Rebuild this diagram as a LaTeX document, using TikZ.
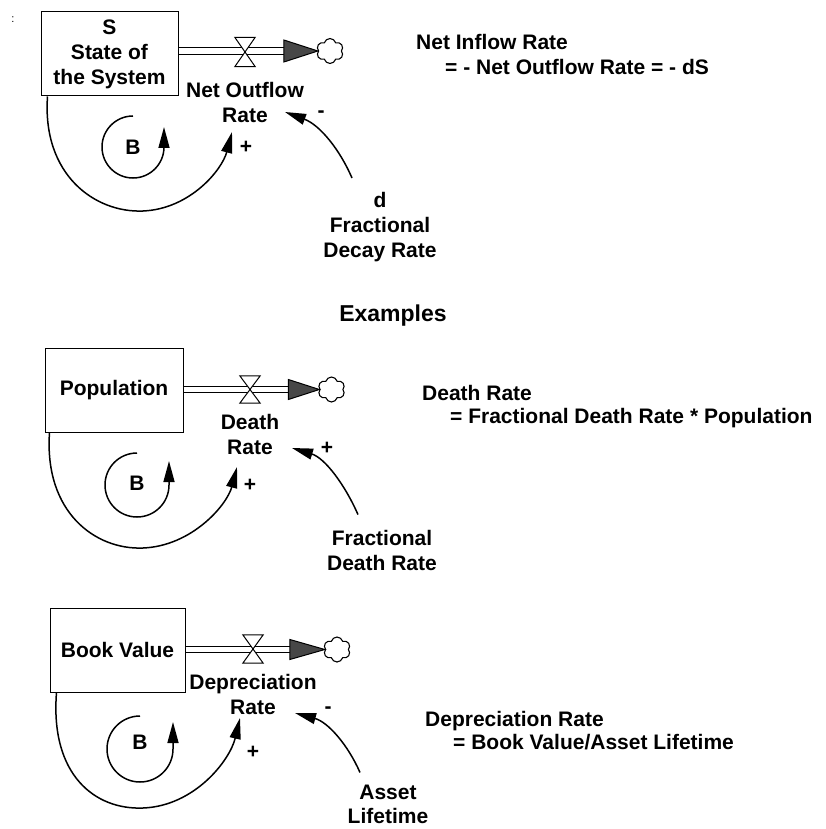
\documentclass[tikz,border=0pt]{standalone}
\usepackage{fontspec}
\setmainfont{Liberation Sans}
\usetikzlibrary{arrows.meta,shapes.symbols,calc}
\begin{document}
\begin{tikzpicture}[x=1pt,y=-1pt,
  txt/.style={font=\fontsize{21}{25}\selectfont\bfseries},
  lbl/.style={txt, inner sep=0pt, align=center},
  eq/.style={txt, inner sep=0pt, anchor=base west},
  stock/.style={txt, draw, line width=1pt, inner sep=0pt, align=center, minimum height=84pt},
  pipe/.style={draw, double, double distance=5.5pt, line width=1.2pt},
  valvebox/.style={inner sep=0pt, minimum width=20pt, minimum height=28pt},
  valve/.style={draw, fill=white, line width=1pt, line join=miter},
  head/.style={draw, fill=black!72, line width=1pt},
  sink/.style={cloud, cloud puffs=6, cloud puff arc=150, draw, line width=1.1pt, minimum width=27pt, minimum height=25pt, inner sep=0pt},
  link/.style={line width=1.5pt, -{Triangle[length=21pt,width=11pt]}},
  polar/.style={txt, inner sep=0pt}
]
\useasboundingbox[fill=white] (0,0) rectangle (826,829);

\node[font=\fontsize{11}{11}\selectfont, inner sep=0pt] (colon) at (13,20) {:};

% ---------- Section 1 ----------
\node[stock, minimum width=137pt] (s1) at (109.5,54) {S\\State of\\the System};
\node[sink] (c1) at (330,51) {};
\node[valvebox, minimum height=29pt] (v1) at (245,52) {};
\coordinate (h1) at ($(c1.west)+(-34,0)$);
\draw[pipe] (s1.east |- h1) -- (h1);
\draw[valve] (v1.north west) -- (v1.north east) -- (v1.south west) -- (v1.south east) -- cycle;
\draw[head] (c1.west) -- ($(h1)+(0,-11)$) -- ($(h1)+(0,11)$) -- cycle;
\node[lbl] (r1) at (245,102) {Net Outflow\\Rate};
\node[lbl] (b1) at (133,147) {B};
\draw[link] (133,116) arc[start angle=270,end angle=0,radius=31] -- ++(0,-20);
\coordinate (t1) at (232,132);
\draw[link] ($(s1.south west)+(7,0)$) .. controls (42,175) and (95,213) .. (143,211)
  .. controls (190,209) and (222,170) .. (t1);
\node[polar] (p1) at (246,147) {+};
\node[lbl] (d1) at (380,227) {d\\Fractional\\Decay Rate};
\coordinate (u1) at (285,112);
\draw[link] ($(d1.north)+(-28,-14)$) .. controls (340,150) and (320,125) .. (u1);
\node[polar] (m1) at (321,114) {-};

\node[eq] (e1a) at (416,50) {Net Inflow Rate};
\node[eq] (e1b) at (445,75) {= - Net Outflow Rate = - dS};

\node[lbl, font=\fontsize{23}{27}\selectfont\bfseries] (ex) at (393,316) {Examples};

% ---------- Section 2 ----------
\node[stock, minimum width=138pt] (s2) at (114,390) {Population};
\node[sink] (c2) at (331.5,389.5) {};
\node[valvebox, minimum height=27pt] (v2) at (250,389.5) {};
\coordinate (h2) at ($(c2.west)+(-31,0)$);
\draw[pipe] (s2.east |- h2) -- (h2);
\draw[valve] (v2.north west) -- (v2.north east) -- (v2.south west) -- (v2.south east) -- cycle;
\draw[head] (c2.west) -- ($(h2)+(0,-10)$) -- ($(h2)+(0,10)$) -- cycle;
\node[lbl] (r2) at (250,434) {Death\\Rate};
\node[lbl] (b2) at (137,483) {B};
\draw[link] (137,453) arc[start angle=270,end angle=0,radius=32] -- ++(0,-24);
\coordinate (t2) at (237,467);
\draw[link] ($(s2.south west)+(5,0)$) .. controls (44,512) and (95,550) .. (143,548)
  .. controls (192,546) and (227,505) .. (t2);
\node[polar] (p2) at (250,485) {+};
\node[lbl] (f2) at (382,550) {Fractional\\Death Rate};
\coordinate (u2) at (292,448);
\draw[link] ($(f2.north)+(-24,-15)$) .. controls (345,485) and (325,458) .. (u2);
\node[polar] (q2) at (327,448) {+};

\node[eq] (e2a) at (422,400) {Death Rate};
\node[eq] (e2b) at (450,423) {= Fractional Death Rate * Population};

% ---------- Section 3 ----------
\node[stock, minimum width=135pt] (s3) at (117.5,650) {Book Value};
\node[sink] (c3) at (337,649.5) {};
\node[valvebox] (v3) at (253,649) {};
\coordinate (h3) at ($(c3.west)+(-35,0)$);
\draw[pipe] (s3.east |- h3) -- (h3);
\draw[valve] (v3.north west) -- (v3.north east) -- (v3.south west) -- (v3.south east) -- cycle;
\draw[head] (c3.west) -- ($(h3)+(0,-10)$) -- ($(h3)+(0,10)$) -- cycle;
\node[lbl] (r3) at (253,694) {Depreciation\\Rate};
\node[lbl] (b3) at (140,742) {B};
\draw[link] (140,716) arc[start angle=270,end angle=0,radius=33] -- ++(0,-27);
\coordinate (t3) at (240,718);
\draw[link] ($(s3.south west)+(7,0)$) .. controls (50,775) and (95,810) .. (143,808)
  .. controls (195,806) and (230,760) .. (t3);
\node[polar] (p3) at (253,752) {+};
\node[lbl, font=\fontsize{21}{24}\selectfont\bfseries] (a3) at (388,804) {Asset\\Lifetime};
\coordinate (u3) at (295,713);
\draw[link] ($(a3.north)+(-28,-12)$) .. controls (348,745) and (328,722) .. (u3);
\node[polar] (m3) at (328,710) {-};

\node[eq] (e3a) at (425,726) {Depreciation Rate};
\node[eq] (e3b) at (453,749) {= Book Value/Asset Lifetime};
\end{tikzpicture}
\end{document}
